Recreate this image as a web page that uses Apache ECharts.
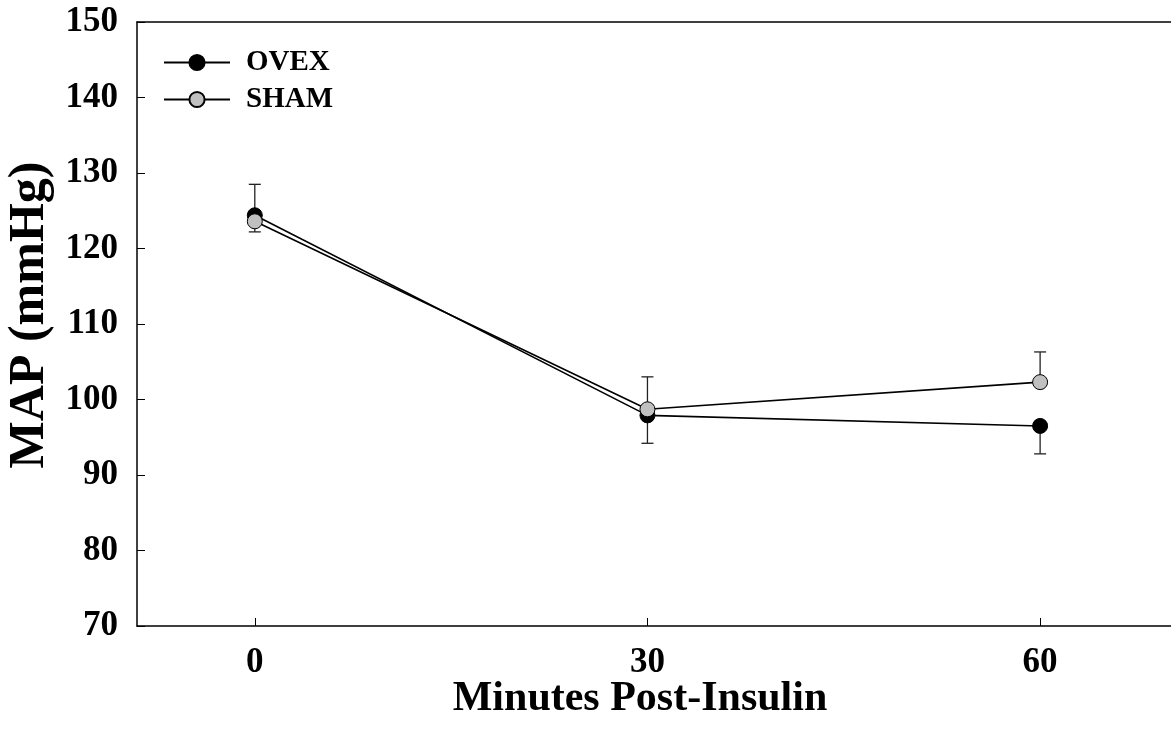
<!DOCTYPE html>
<html>
<head>
<meta charset="utf-8">
<script src="https://cdn.jsdelivr.net/npm/echarts@6/dist/echarts.min.js"></script>
<style>
html,body{margin:0;padding:0;background:#fff;}
#chart{width:1171px;height:744px;}
</style>
</head>
<body>
<div id="chart"></div>
<script>
// ---- data ----
var minutes = [0, 30, 60];
var ovexMean = [124.4, 97.9, 96.5];
var ovexErr  = [4.1, 3.7, 3.7];
var ovexErrDir = [1, -1, -1];       // +1 = upper bar, -1 = lower bar
var shamMean = [123.6, 98.7, 102.3];
var shamErr  = [1.4, 4.3, 4.0];
var shamErrDir = [-1, 1, 1];
var yTicks = [70, 80, 90, 100, 110, 120, 130, 140, 150];
var xTicks = [0, 30, 60];

var FONT = '"Liberation Serif", "Times New Roman", serif';

function pairs(xs, ys) { return xs.map(function (x, i) { return [x, ys[i]]; }); }
function errData(xs, mean, err, dir) {
  return xs.map(function (x, i) {
    return [x, mean[i], mean[i] + dir[i] * err[i]];
  });
}

function errRender(params, api) {
  var x = api.value(0), m = api.value(1), e = api.value(2);
  var p0 = api.coord([x, m]);
  var p1 = api.coord([x, e]);
  var cap = 6;
  return {
    type: 'group',
    children: [
      { type: 'line', shape: { x1: p0[0], y1: p0[1], x2: p1[0], y2: p1[1] },
        style: { stroke: '#222', lineWidth: 1.3 } },
      { type: 'line', shape: { x1: p1[0] - cap, y1: p1[1], x2: p1[0] + cap, y2: p1[1] },
        style: { stroke: '#222', lineWidth: 1.3 } }
    ]
  };
}

var chart = echarts.init(document.getElementById('chart'));
chart.setOption({
  animation: false,
  backgroundColor: '#fff',
  grid: { left: 137, top: 22, bottom: 118, right: 0, show: false },
  xAxis: [{
    type: 'value', min: -9, max: 70, interval: 10,
    axisLine: { show: true, onZero: false, lineStyle: { color: '#000', width: 1.5 } },
    axisTick: { show: true, inside: true, length: 8, lineStyle: { color: '#000', width: 1 },
                customValues: xTicks },
    axisLabel: { show: true, customValues: xTicks, margin: 19,
                 fontFamily: FONT, fontWeight: 'bold', fontSize: 35, color: '#000' },
    splitLine: { show: false }
  }, {
    type: 'value', min: -9, max: 70, position: 'top',
    axisLine: { show: true, onZero: false, lineStyle: { color: '#000', width: 1.5 } },
    axisTick: { show: false }, axisLabel: { show: false }, splitLine: { show: false }
  }],
  yAxis: {
    type: 'value', min: 70, max: 150, interval: 10,
    axisLine: { show: true, onZero: false, lineStyle: { color: '#000', width: 1.5 } },
    axisTick: { show: true, inside: true, length: 8, lineStyle: { color: '#000', width: 1 },
                customValues: yTicks },
    axisLabel: { margin: 19, customValues: yTicks,
                 fontFamily: FONT, fontWeight: 'bold', fontSize: 35, color: '#000' },
    splitLine: { show: false }
  },
  legend: {
    orient: 'vertical', left: 163, top: 48, padding: 0, itemGap: 8,
    itemWidth: 66, itemHeight: 19,
    textStyle: { fontFamily: FONT, fontWeight: 'bold', fontSize: 29, color: '#000', padding: [0, 0, 0, 11] },
    data: ['OVEX', 'SHAM']
  },
  graphic: [
    { type: 'text', x: 640, y: 699, silent: true,
      style: { text: 'Minutes Post-Insulin', fontFamily: FONT, fontWeight: 'bold', fontSize: 42,
               fill: '#000', align: 'center', verticalAlign: 'middle' } },
    { type: 'text', x: 30, y: 315, rotation: Math.PI / 2, silent: true,
      style: { text: 'MAP (mmHg)', fontFamily: FONT, fontWeight: 'bold', fontSize: 50,
               fill: '#000', align: 'center', verticalAlign: 'middle' } }
  ],
  series: [
    { type: 'custom', name: 'ovexErr', renderItem: errRender, z: 1,
      data: errData(minutes, ovexMean, ovexErr, ovexErrDir), encode: { x: 0, y: [1, 2] } },
    { type: 'custom', name: 'shamErr', renderItem: errRender, z: 1,
      data: errData(minutes, shamMean, shamErr, shamErrDir), encode: { x: 0, y: [1, 2] } },
    { type: 'line', name: 'OVEX', data: pairs(minutes, ovexMean), z: 2,
      symbol: 'circle', symbolSize: 15,
      lineStyle: { color: '#000', width: 1.6 },
      itemStyle: { color: '#000', borderColor: '#000', borderWidth: 1 } },
    { type: 'line', name: 'SHAM', data: pairs(minutes, shamMean), z: 3,
      symbol: 'circle', symbolSize: 15,
      lineStyle: { color: '#000', width: 1.6 },
      itemStyle: { color: '#c0c0c0', borderColor: '#000', borderWidth: 1 } }
  ]
});
</script>
</body>
</html>
